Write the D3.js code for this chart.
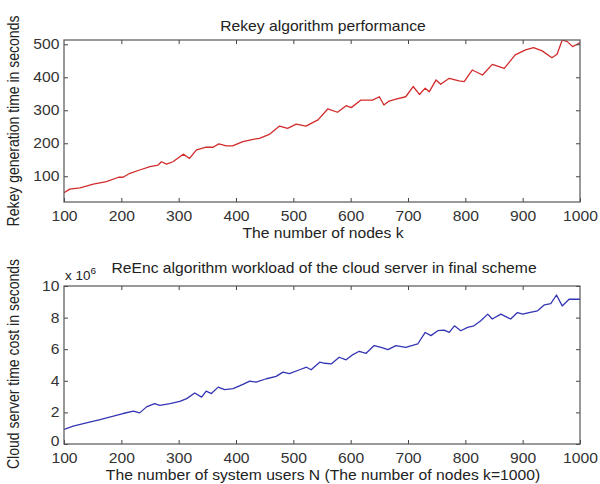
<!DOCTYPE html>
<html>
<head>
<meta charset="utf-8">
<script src="https://cdn.jsdelivr.net/npm/d3@7.9.0/dist/d3.min.js"></script>
<style>
  body { margin: 0; background: #fff; }
  svg { display: block; font-family: "Liberation Sans", Arial, Helvetica, sans-serif; }
  .tick line { stroke: #444; }
  .domain { stroke: none; }
  .tick text { fill: #333; font-size: 14px; }
  .lbl { fill: #222; font-size: 14px; }
</style>
</head>
<body>
<div id="chart"></div>
<script>
// top panel: rekey time vs number of nodes k
const rekeyK = [100, 110, 128, 151, 174, 195, 203, 215, 232, 250, 264, 270, 279, 290, 308, 319, 331, 348, 360, 370,
  383, 394, 412, 430, 441, 459, 476, 490, 505, 522, 543, 560, 577, 592, 601, 618, 638, 650, 658, 667,
  679, 696, 709, 720, 730, 737, 749, 757, 772, 789, 798, 812, 830, 847, 868, 887, 905, 919, 934, 951,
  960, 969, 978, 987, 995, 1000];
const rekeyTime = [50, 61, 65, 76, 84, 97, 97, 109, 119, 129, 134, 144, 137, 144, 167, 154, 180, 188, 188, 198,
  192, 192, 205, 212, 215, 228, 252, 245, 258, 252, 271, 304, 294, 314, 308, 331, 331, 341, 316, 328,
  334, 341, 372, 348, 367, 356, 392, 379, 397, 389, 387, 422, 407, 439, 427, 468, 483, 490, 480, 459,
  470, 513, 508, 493, 500, 505];

// bottom panel: cloud server cost (x 10^6 s) vs system users N
const usersN = [100, 116, 139, 163, 186, 203, 221, 232, 244, 258, 267, 285, 302, 314, 328, 340, 348, 357, 369, 380,
  395, 412, 424, 435, 453, 470, 482, 493, 511, 523, 531, 546, 555, 566, 580, 592, 604, 615, 627, 641,
  653, 665, 679, 696, 717, 730, 740, 752, 763, 772, 781, 792, 804, 815, 827, 839, 847, 862, 879, 891,
  900, 911, 926, 938, 949, 959, 969, 981, 995, 1000];
const reencCost = [0.92, 1.13, 1.34, 1.55, 1.76, 1.93, 2.08, 1.97, 2.35, 2.56, 2.45, 2.56, 2.70, 2.87, 3.23, 2.97, 3.35, 3.19, 3.60, 3.44,
  3.50, 3.77, 3.98, 3.92, 4.13, 4.28, 4.55, 4.45, 4.70, 4.86, 4.70, 5.18, 5.11, 5.07, 5.49, 5.33, 5.66, 5.87, 5.74, 6.23,
  6.12, 5.97, 6.23, 6.12, 6.33, 7.06, 6.86, 7.17, 7.21, 7.06, 7.48, 7.17, 7.38, 7.48, 7.80, 8.22, 7.91, 8.22, 7.91, 8.32,
  8.22, 8.32, 8.43, 8.81, 8.89, 9.43, 8.74, 9.16, 9.16, 9.16];

const xTicks = [100, 200, 300, 400, 500, 600, 700, 800, 900, 1000];
const rekeyTicks = [100, 200, 300, 400, 500];
const costTicks = [0, 2, 4, 6, 8, 10];

const width = 600, height = 484;
const left = 64, right = 580;
const STRETCH = 'scale(1.12,1)';

const svg = d3.select('#chart').append('svg')
  .attr('width', width)
  .attr('height', height);

function label(txt, x, y, opts = {}) {
  const t = svg.append('text')
    .attr('class', 'lbl')
    .attr('text-anchor', opts.anchor || 'middle')
    .attr('transform', `translate(${x},${y}) ${STRETCH}${opts.rotate ? ' rotate(-90)' : ''}`)
    .text(txt);
  if (opts.size) t.style('font-size', opts.size + 'px');
  return t;
}

function panel(id, xs, ys, yDomain, yTicks, top, bottom, color, tickPad) {
  const x = d3.scaleLinear().domain([100, 1000]).range([left, right]);
  const y = d3.scaleLinear().domain(yDomain).range([bottom, top]);

  svg.append('clipPath').attr('id', id)
    .append('rect')
    .attr('x', left).attr('y', top)
    .attr('width', right - left).attr('height', bottom - top);

  const pts = xs.map((d, i) => [d, ys[i]]);
  svg.append('path')
    .datum(pts)
    .attr('clip-path', `url(#${id})`)
    .attr('fill', 'none')
    .attr('stroke', color)
    .attr('stroke-width', 1.3)
    .attr('stroke-linejoin', 'round')
    .attr('d', d3.line().x(d => x(d[0])).y(d => y(d[1])));

  // axes, ticks inside like matlab
  svg.append('g')
    .attr('transform', `translate(0,${bottom})`)
    .call(d3.axisBottom(x).tickValues(xTicks).tickFormat(d3.format('d'))
      .tickSizeInner(-4).tickSizeOuter(0).tickPadding(tickPad))
    .selectAll('text').attr('transform', STRETCH);

  svg.append('g')
    .attr('transform', `translate(0,${top})`)
    .call(d3.axisTop(x).tickValues(xTicks.slice(1, -1)).tickSizeInner(-4).tickSizeOuter(0).tickFormat(''));

  const yAxis = svg.append('g')
    .attr('transform', `translate(${left},0)`)
    .call(d3.axisLeft(y).tickValues(yTicks).tickSizeInner(-4).tickSizeOuter(0).tickPadding(4));
  yAxis.selectAll('text')
    .attr('transform', STRETCH)
    // lift the lowest label a little so it clears the x tick labels
    .attr('dy', d => d === yDomain[0] ? '0.1em' : '0.32em');

  svg.append('g')
    .attr('transform', `translate(${right},0)`)
    .call(d3.axisRight(y).tickValues(yTicks).tickSizeInner(-4).tickSizeOuter(0).tickFormat(''));

  svg.append('rect')
    .attr('x', left).attr('y', top)
    .attr('width', right - left).attr('height', bottom - top)
    .attr('fill', 'none')
    .attr('stroke', '#555')
    .attr('stroke-width', 1.2);
}

panel('clipTop', rekeyK, rekeyTime, [22, 513], rekeyTicks, 40, 202, '#d22b2b', 9);
panel('clipBottom', usersN, reencCost, [0, 10], costTicks, 286, 444, '#3434b4', 9);

label('Rekey algorithm performance', 323, 31);
label('The number of nodes k', 323, 238);
label('Rekey generation time in seconds', 19, 121, { rotate: true });

label('ReEnc algorithm workload of the cloud server in final scheme', 324, 273);
const mult = label('x 10', 65, 280, { anchor: 'start', size: 12 });
mult.append('tspan').attr('dy', -6).style('font-size', '9px').text('6');
label('The number of system users N (The number of nodes k=1000)', 323, 480);
label('Cloud server time cost in seconds', 19, 364, { rotate: true });
</script>
</body>
</html>
